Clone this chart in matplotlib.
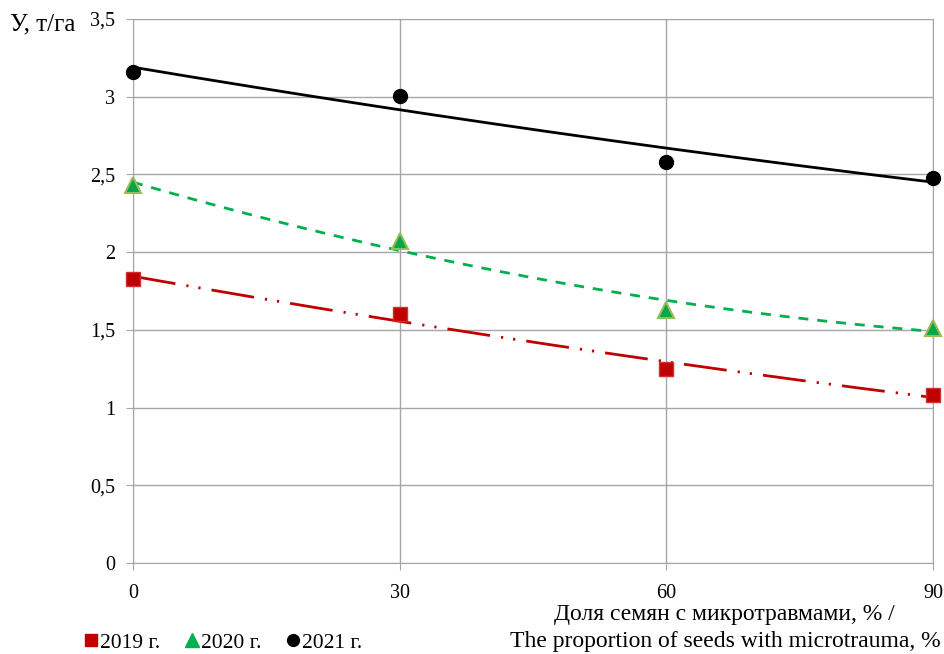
import numpy as np
import matplotlib
matplotlib.use("Agg")
import matplotlib.pyplot as plt
from matplotlib.lines import Line2D

plt.rcParams["font.family"] = ["Liberation Serif", "DejaVu Serif"]

# data
share = [0, 30, 60, 90]
y2019 = [1.83, 1.60, 1.25, 1.08]
y2020 = [2.43, 2.07, 1.63, 1.51]
y2021 = [3.16, 3.005, 2.58, 2.48]
yticks = [0, 0.5, 1, 1.5, 2, 2.5, 3, 3.5]
ytick_labels = ["0", "0,5", "1", "1,5", "2", "2,5", "3", "3,5"]
series = ["2019 г.", "2020 г.", "2021 г."]

fig = plt.figure(figsize=(9.45, 6.54), dpi=100)
ax = fig.add_axes([0.1407, 0.1391, 0.8466, 0.8319])
ax.set_xlim(0, 90)
ax.set_ylim(0, 3.5)

# polynomial (2nd order) trend lines, as in the original
xs = np.linspace(0, 90, 200)
styles = [
    (y2019, "#C00000", (15.5, 4, 0.8, 3.6, 0.8, 4)),
    (y2020, "#00B050", (3.6, 3.2)),
    (y2021, "black", None),
]
for yv, col, dash in styles:
    p = np.polyfit(share, yv, 2)
    ln, = ax.plot(xs, np.polyval(p, xs), color=col, lw=2.0, zorder=2)
    if dash:
        ln.set_dashes(dash)

ax.plot(share, y2019, ls="none", marker="s", ms=10, mfc="#C00000", mec="#D03030", mew=1,
        zorder=3, clip_on=False)
ax.plot(share, y2020, ls="none", marker="^", ms=11, mfc="#00A84A", mec="#9BBB59", mew=1.5,
        zorder=3, clip_on=False)
ax.plot(share, y2021, ls="none", marker="o", ms=10, mfc="black", mec="black",
        zorder=3, clip_on=False)

ax.set_xticks(share)
ax.set_yticks(yticks)
ax.set_yticklabels(ytick_labels)
ax.grid(True, color="#A6A6A6", lw=1)
ax.set_axisbelow(True)
for s in ax.spines.values():
    s.set_color("#A6A6A6")
ax.tick_params(axis="both", colors="#A6A6A6", labelcolor="black", labelsize=14.5, length=5)
ax.tick_params(axis="x", pad=10)
ax.tick_params(axis="y", pad=8)

fig.text(0.011, 0.962, "У, т/га", fontsize=18, ha="left", va="center")
fig.text(0.767, 0.060, "Доля семян с микротравмами, % /", fontsize=17, ha="center", va="center")
fig.text(0.767, 0.019, "The proportion of seeds with microtrauma, %", fontsize=17, ha="center", va="center")

handles = [
    Line2D([], [], ls="none", marker="s", ms=8.5, mfc="#C00000", mec="#C00000"),
    Line2D([], [], ls="none", marker="^", ms=9.5, mfc="#00B050", mec="#00B050"),
    Line2D([], [], ls="none", marker="o", ms=8.5, mfc="black", mec="black"),
]
fig.legend(handles, series, loc="center left", bbox_to_anchor=(0.078, 0.017), ncol=3,
           frameon=False, fontsize=15.5, handlelength=0.6, handletextpad=0.1,
           columnspacing=1.2, borderpad=0)

fig.savefig("out.png", dpi=100)
